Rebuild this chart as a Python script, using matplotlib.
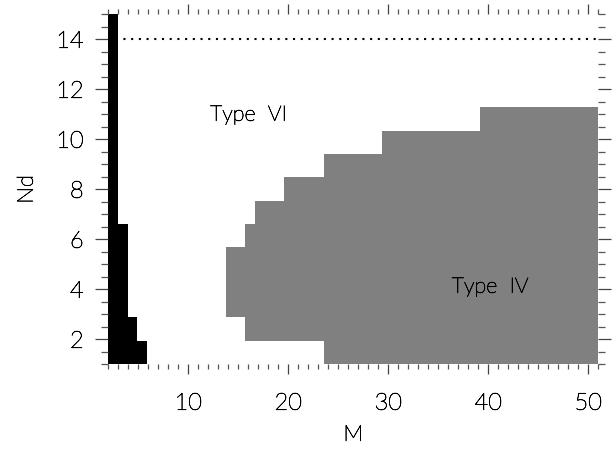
import numpy as np
import matplotlib
matplotlib.use("Agg")
import matplotlib.pyplot as plt
import matplotlib.patheffects as pe
from matplotlib.colors import ListedColormap
from matplotlib.ticker import MultipleLocator

# ---- data ----
M_values = list(range(2, 52))          # 50 columns
Nd_values = list(range(1, 16))         # 15 rows

# black region: highest Nd per M (0 = none)
black_top = [15, 6, 2, 1] + [0] * 46

# grey region (Type IV): lowest / highest Nd per M (0 = none)
grey_lo = ([0] * 12 + [3, 3, 2] + [2, 2, 2] + [2, 2, 2, 2]
           + [1] * 6 + [1] * 10 + [1] * 12)
grey_hi = ([0] * 12 + [5, 5, 6] + [7, 7, 7] + [8, 8, 8, 8]
           + [9] * 6 + [10] * 10 + [11] * 12)

dotted_level = 14
labels = [("Type  VI", 12.17, 10.74), ("Type  IV", 36.34, 3.86)]

# ---- build grid ----
grid = np.zeros((len(Nd_values), len(M_values)), dtype=int)
for j, m in enumerate(M_values):
    for i, nd in enumerate(Nd_values):
        if grey_lo[j] and grey_lo[j] <= nd <= grey_hi[j]:
            grid[i, j] = 1
        if nd <= black_top[j]:
            grid[i, j] = 2

plt.rcParams['font.family'] = ['Lato', 'DejaVu Sans']
plt.rcParams['font.weight'] = 'light'
plt.rcParams['axes.labelweight'] = 'light'
plt.rcParams['text.color'] = 'black'
plt.rcParams['xtick.labelcolor'] = 'black'
plt.rcParams['ytick.labelcolor'] = 'black'

thin = [pe.withStroke(linewidth=0.45, foreground='black')]

fig = plt.figure(figsize=(6.16, 4.5), dpi=100)
ax = fig.add_axes([108.3 / 616, 1 - 364.3 / 450, 490 / 616, 350 / 450])

cmap = ListedColormap(['white', '#808080', 'black'])
ax.imshow(grid, cmap=cmap, vmin=0, vmax=2, origin='lower', aspect='auto',
          interpolation='nearest',
          extent=(M_values[0], M_values[-1], Nd_values[0], Nd_values[-1]))

ax.axhline(dotted_level, color='black', lw=1.5, linestyle=(0, (1, 2.7)))

for txt, x, y in labels:
    ax.text(x, y, txt, fontsize=15.5, ha='left', va='baseline',
            color='black', fontweight='light', path_effects=thin)

ax.set_xlim(M_values[0], M_values[-1])
ax.set_ylim(Nd_values[0], Nd_values[-1])

for s in ax.spines.values():
    s.set_visible(False)

ax.xaxis.set_major_locator(MultipleLocator(10))
ax.xaxis.set_minor_locator(MultipleLocator(1))
ax.yaxis.set_major_locator(MultipleLocator(2))
ax.yaxis.set_minor_locator(MultipleLocator(0.5))

ax.tick_params(axis='x', which='major', direction='out', length=7.5,
               width=0.9, top=True, bottom=True, labelsize=17, pad=13,
               color='#444444')
ax.tick_params(axis='x', which='minor', direction='out', length=3.6,
               width=0.9, top=True, bottom=True, color='#555555')
ax.tick_params(axis='y', which='major', direction='out', length=9.7,
               width=0.9, left=True, right=True, labelsize=17, pad=8,
               color='#444444')
ax.tick_params(axis='y', which='minor', direction='out', length=4.7,
               width=0.9, left=True, right=True, color='#555555')

for lab in ax.get_xticklabels() + ax.get_yticklabels():
    lab.set_path_effects(thin)

xl = ax.set_xlabel('M', fontsize=16, labelpad=8, fontweight='light')
yl = ax.set_ylabel('Nd', fontsize=16, labelpad=14, fontweight='light')
xl.set_path_effects(thin)
yl.set_path_effects(thin)

fig.savefig('out.png', dpi=100)
